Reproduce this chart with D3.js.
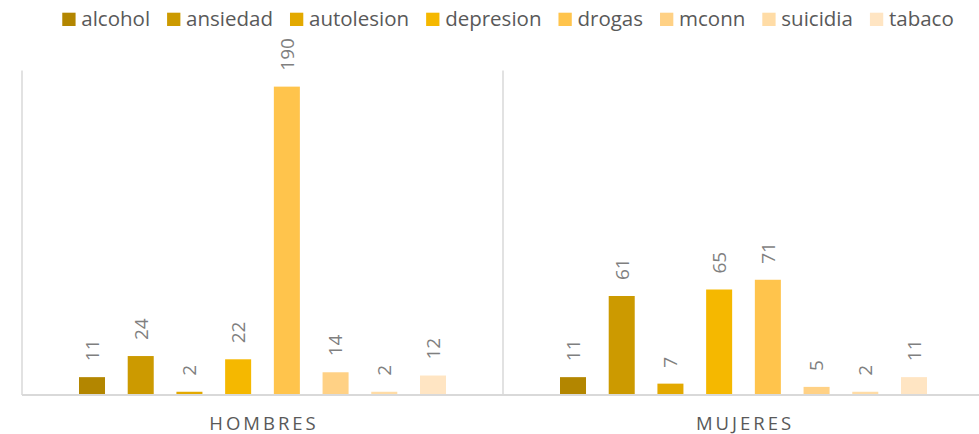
<!DOCTYPE html>
<html lang="es">
<head>
    <meta charset="UTF-8">
    <script src="https://cdnjs.cloudflare.com/ajax/libs/d3/7.8.5/d3.min.js"></script>
    <title>Chart</title>
    <style>
        body { margin: 0; background: #fff; }
        text { font-family: "Open Sans", sans-serif; }
    </style>
</head>
<body>
    <div id="chart"></div>
    <script>
        // datos
        var groups = ["HOMBRES", "MUJERES"];
        var series = ["alcohol", "ansiedad", "autolesion", "depresion", "drogas", "mconn", "suicidia", "tabaco"];
        var hombres = [11, 24, 2, 22, 190, 14, 2, 12];
        var mujeres = [11, 61, 7, 65, 71, 5, 2, 11];
        var colors = ["#b38600", "#cc9a00", "#e3a900", "#f5b800", "#ffc44c", "#ffd185", "#ffdca6", "#ffe5c3"];

        var width = 979, height = 434;
        var svg = d3.select("#chart").append("svg")
                    .attr("width", width)
                    .attr("height", height);

        var x0 = d3.scaleBand().domain(groups).range([22, 984]);
        var x1 = d3.scaleBand().domain(series).range([0, x0.bandwidth()])
                    .paddingInner(0.466).paddingOuter(1.17);
        var y = d3.scaleLinear().domain([0, 200]).range([395, 70.4]);
        var color = d3.scaleOrdinal().domain(series).range(colors);

        var table = [];
        groups.forEach(function(g, gi) {
            var vals = gi == 0 ? hombres : mujeres;
            series.forEach(function(s, si) {
                table.push({group: g, name: s, value: vals[si]});
            });
        });

        // lineas verticales entre categorias
        svg.selectAll(".sep")
            .data(groups)
            .enter().append("line")
            .attr("x1", function(d) {return x0(d);})
            .attr("x2", function(d) {return x0(d);})
            .attr("y1", y(200))
            .attr("y2", y(0))
            .attr("stroke", "#d9d9d9")
            .attr("stroke-width", 1.5);

        svg.selectAll(".bar")
            .data(table)
            .enter().append("rect")
            .attr("x", function(d) {return x0(d.group) + x1(d.name);})
            .attr("y", function(d) {return y(d.value);})
            .attr("width", x1.bandwidth())
            .attr("height", function(d) {return y(0) - y(d.value);})
            .attr("fill", function(d) {return color(d.name);});

        // eje x
        svg.append("line")
            .attr("x1", 22).attr("x2", width)
            .attr("y1", y(0)).attr("y2", y(0))
            .attr("stroke", "#d9d9d9")
            .attr("stroke-width", 2);

        svg.selectAll(".lbl")
            .data(table)
            .enter().append("text")
            .attr("transform", function(d) {
                var cx = x0(d.group) + x1(d.name) + x1.bandwidth() / 2;
                return "translate(" + cx + "," + (y(d.value) - 16) + ") rotate(-90)";
            })
            .attr("dy", "0.36em")
            .attr("font-size", 19)
            .attr("fill", "#7f7f7f")
            .text(function(d) {return d.value;});

        svg.selectAll(".cat")
            .data(groups)
            .enter().append("text")
            .attr("x", function(d) {return x0(d) + x0.bandwidth() / 2 + 1.5;})
            .attr("y", 430)
            .attr("text-anchor", "middle")
            .attr("font-size", 18.5)
            .attr("letter-spacing", "3px")
            .attr("fill", "#595959")
            .text(function(d) {return d;});

        // leyenda
        var legend = svg.append("g");
        var lx = 0;
        series.forEach(function(s) {
            var item = legend.append("g").attr("transform", "translate(" + lx + ",0)");
            item.append("rect")
                .attr("x", 0).attr("y", 12.7)
                .attr("width", 13.3).attr("height", 13.3)
                .attr("fill", color(s));
            var t = item.append("text")
                .attr("x", 19)
                .attr("y", 26)
                .attr("font-size", 20.5)
                .attr("fill", "#595959")
                .text(s);
            lx += 19 + t.node().getComputedTextLength() + 17;
        });
        lx -= 17;
        legend.attr("transform", "translate(" + (508 - lx / 2) + ",0)");
    </script>
</body>
</html>
